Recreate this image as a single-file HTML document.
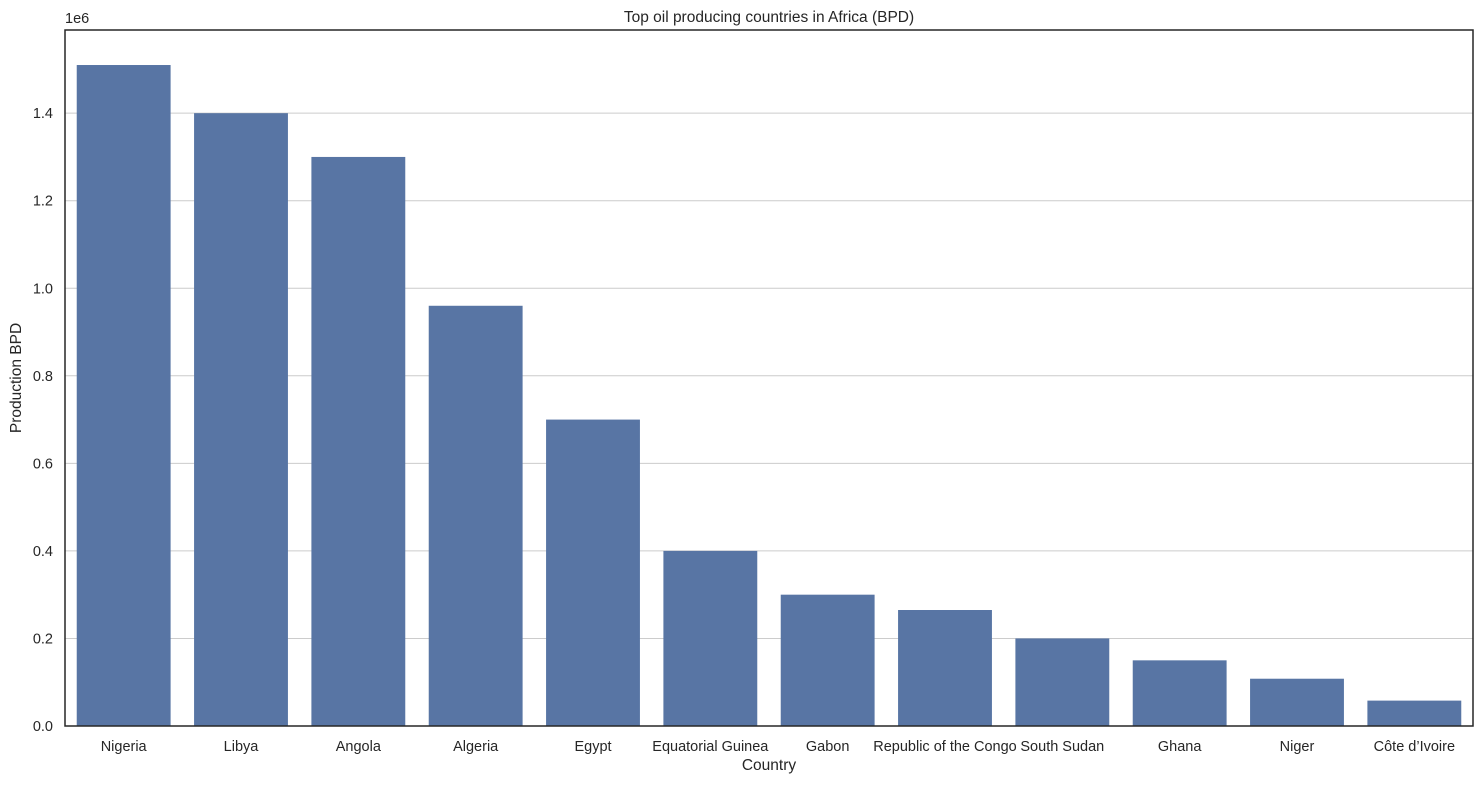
<!DOCTYPE html>
<html><head><meta charset="utf-8"><style>
body{margin:0;background:#fff;font-family:"Liberation Sans",sans-serif;}
svg text{font-family:"Liberation Sans",sans-serif;fill:#262626;}
</style></head><body>
<svg id="chart" width="1484" height="784"></svg>
<script>
const categories=["Nigeria","Libya","Angola","Algeria","Egypt","Equatorial Guinea","Gabon","Republic of the Congo","South Sudan","Ghana","Niger","Côte d’Ivoire"];
const values=[1510000,1400000,1300000,960000,700000,400000,300000,265000,200000,150000,108000,58000];
const yTicks=[0,200000,400000,600000,800000,1000000,1200000,1400000];
const yTickLabels=["0.0","0.2","0.4","0.6","0.8","1.0","1.2","1.4"];
const L=65,R=1473,T=30,B=726,yMax=1590000;
const NS="http://www.w3.org/2000/svg";
const svg=document.getElementById('chart');
function y(v){return B-(v/yMax)*(B-T);}
const band=(R-L)/categories.length;
function x(i){return L+band*i;}
function mk(tag,attrs,txt){const e=document.createElementNS(NS,tag);for(const k in attrs)e.setAttribute(k,attrs[k]);if(txt!==undefined)e.textContent=txt;svg.appendChild(e);return e;}
yTicks.forEach((t,i)=>{
 const g=mk('line',{x1:L,x2:R,y1:y(t),y2:y(t),stroke:'#cccccc','stroke-width':1});
 
 
 const lb=mk('text',{x:L-12,y:y(t)+5,'text-anchor':'end','font-size':14.5},yTickLabels[i]);
 
 
});
categories.forEach((c,i)=>{
 const w=band*0.8;
 const r=mk('rect',{x:x(i)+band*0.1,y:y(values[i]),width:w,height:B-y(values[i]),fill:'#5875a4'});
 
 
 const lb=mk('text',{x:x(i)+band/2,y:B+25,'text-anchor':'middle','font-size':14.5},c);
 
 
});
const fr=mk('rect',{x:L,y:T,width:R-L,height:B-T,fill:'none',stroke:'#262626','stroke-width':1.5});


const off=mk('text',{x:L,y:T-7,'font-size':14.5},'1e6');


const tt=mk('text',{x:(L+R)/2,y:T-8,'text-anchor':'middle','font-size':15.5},'Top oil producing countries in Africa (BPD)');


const xt=mk('text',{x:(L+R)/2,y:B+44,'text-anchor':'middle','font-size':15.5},'Country');


const yt=mk('text',{x:0,y:0,'text-anchor':'middle','font-size':15.5,transform:'translate(21,'+((T+B)/2)+') rotate(-90)'},'Production BPD');


</script>
</body></html>
